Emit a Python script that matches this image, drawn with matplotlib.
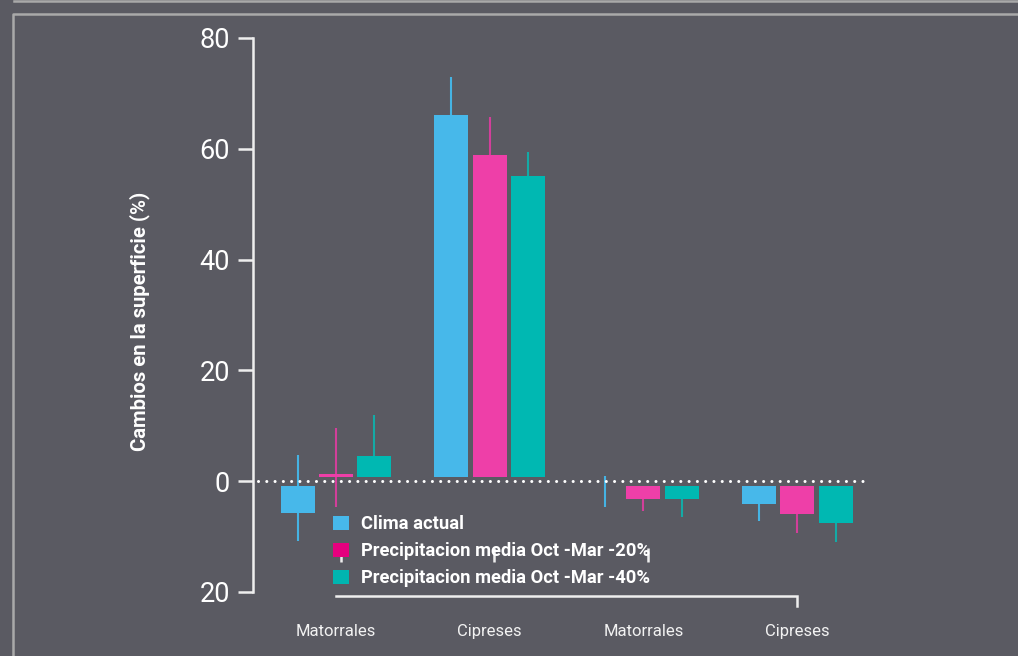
import matplotlib
matplotlib.use("Agg")
import matplotlib.pyplot as plt
from matplotlib.lines import Line2D
from matplotlib.patches import Patch
import numpy as np

# data
categories = ["Matorrales", "Cipreses", "Matorrales", "Cipreses"]
series = ["Clima actual",
          "Precipitacion media Oct -Mar -20%",
          "Precipitacion media Oct -Mar -40%"]
clima = [-5.7, 66.1, 0.0, -4.2]
precip20 = [1.3, 58.9, -3.3, -5.9]
precip40 = [4.6, 55.1, -3.2, -7.5]
err_hi = [[4.7, 73.0, 0.9, -1.5],
          [9.6, 65.8, -1.2, -2.0],
          [12.0, 59.4, -1.0, -2.5]]
err_lo = [[-10.8, 59.0, -4.7, -7.2],
          [-4.7, 52.0, -5.3, -9.3],
          [1.5, 51.0, -6.5, -10.9]]
yticks = [80, 60, 40, 20, 0, -20]
ytick_labels = ["80", "60", "40", "20", "0", "20"]

BG = "#5a5a62"
AXC = "#eeeeee"
bar_colors = ["#47b8ea", "#ee3fa8", "#00b8b2"]
err_colors = ["#45b3e3", "#d23f9a", "#14aaa6"]
legend_colors = ["#47b8ea", "#e5007e", "#00b5b0"]
FONT = ["Roboto", "DejaVu Sans"]
GAP = 0.8

plt.rcParams["font.family"] = FONT

W, H = 1018, 656
fig = plt.figure(figsize=(W / 100, H / 100), dpi=100, facecolor=BG)
ax = fig.add_axes([253 / W, (H - 592) / H, 621 / W, (592 - 38) / H])
ax.set_facecolor(BG)

# frame of the screenshot
frame = dict(color="#a9a9a9", lw=1.8, transform=fig.transFigure)
fig.add_artist(Line2D([14 / W, 1], [1 - 1 / H, 1 - 1 / H], **frame))
fig.add_artist(Line2D([1, 12.8 / W, 12.8 / W], [1 - 13.8 / H, 1 - 13.8 / H, 0], **frame))

x = np.arange(len(categories))
offsets = [-0.25, 0.0, 0.25]
width = 0.221
values = [clima, precip20, precip40]

for k, vals in enumerate(values):
    vals = np.array(vals)
    xs = x + offsets[k]
    ax.vlines(xs, err_lo[k], err_hi[k], color=err_colors[k], lw=1.5, zorder=2)
    bottoms = np.where(vals >= 0, GAP, -GAP)
    heights = np.where(np.abs(vals) > GAP, vals - bottoms, 0)
    ax.bar(xs, heights, width, bottom=bottoms, color=bar_colors[k], zorder=3)

ax.axhline(0, xmin=0.008, xmax=0.994, color="white", lw=2.2,
           ls=(0, (0.01, 2.7)), dash_capstyle="round", zorder=4)

ax.set_xlim(-0.54, 3.5)
ax.set_ylim(-20, 80)
for s in ["top", "right", "bottom"]:
    ax.spines[s].set_visible(False)
ax.spines["left"].set_color(AXC)
ax.spines["left"].set_linewidth(1.8)
ax.spines["left"].set_capstyle("projecting")

ax.set_yticks(yticks, ytick_labels)
ax.tick_params(axis="y", colors=AXC, labelcolor="white", length=11, width=1.8,
               pad=5.5, labelsize=19.5)
ax.set_xticks(x, categories)
ax.tick_params(axis="x", length=0, pad=23, labelcolor="#f2f2f2", labelsize=12)

# stray axis pieces seen in the reference
ax.plot([x[0], x[-1], x[-1]], [-20.7, -20.7, -22.6], color=AXC, lw=1.8,
        clip_on=False, solid_joinstyle="miter", zorder=5)
ax.vlines(x[:3] + 0.03, -14.6, -12.1, color=AXC, lw=1.8, clip_on=False, zorder=6)

handles = [Patch(facecolor=c, edgecolor="none") for c in legend_colors]
leg = fig.legend(handles, series, loc="upper left",
                 bbox_to_anchor=(333 / W, 1 - 515 / H), frameon=False,
                 borderpad=0, borderaxespad=0, handlelength=0.87,
                 handleheight=0.82, handletextpad=0.66, labelspacing=0.5,
                 prop=dict(family=FONT, weight="bold", size=13.2))
for t in leg.get_texts():
    t.set_color("white")
leg.set_zorder(5)

fig.text(140 / W, 1 - 321 / H, "Cambios en la superficie (%)", rotation=90,
         ha="center", va="center", color="white", fontsize=14.6, fontweight="bold")

fig.savefig("out.png", dpi=100, facecolor=BG)
